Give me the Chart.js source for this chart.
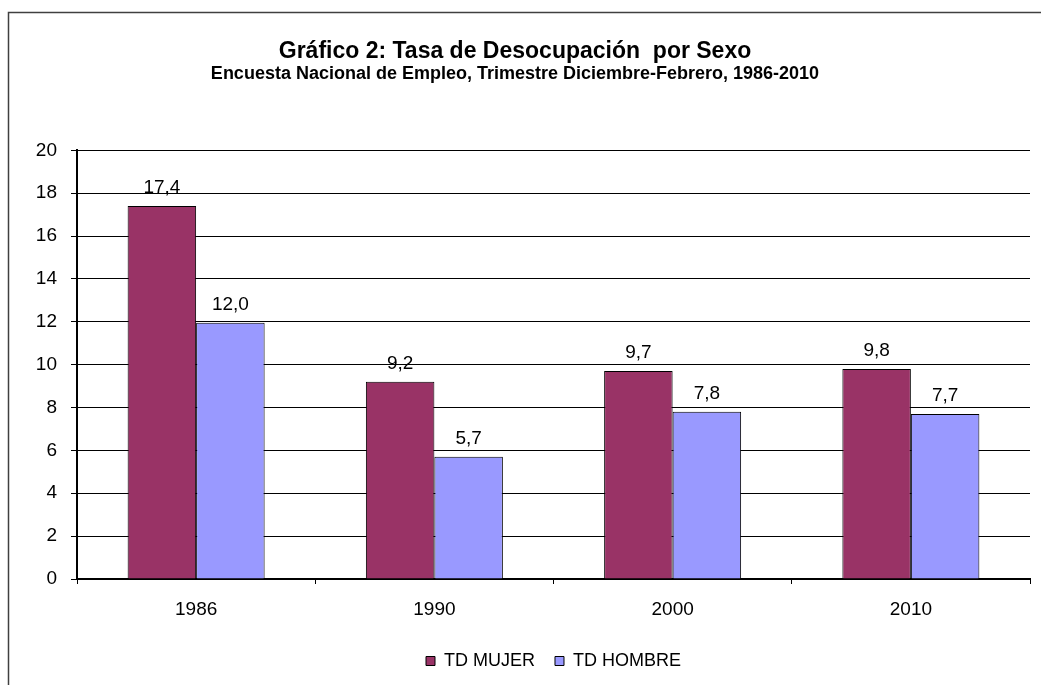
<!DOCTYPE html>
<html>
<head>
<meta charset="utf-8">
<script src="https://cdn.jsdelivr.net/npm/chart.js@4/dist/chart.umd.min.js"></script>
<style>
  html, body { margin: 0; padding: 0; background: #fff; }
  #wrap { width: 1041px; height: 685px; }
</style>
</head>
<body>
<div id="wrap"><canvas id="c" width="1041" height="685"></canvas></div>
<script>
const categories = ['1986', '1990', '2000', '2010'];
const tdMujer = [17.4, 9.2, 9.7, 9.8];
const tdHombre = [11.95, 5.7, 7.8, 7.7];
const seriesNames = ['TD MUJER', 'TD HOMBRE'];
const titleText = 'Gráfico 2: Tasa de Desocupación  por Sexo';
const subtitleText = 'Encuesta Nacional de Empleo, Trimestre Diciembre-Febrero, 1986-2010';
const yTicks = { min: 0, max: 20, step: 2 };

const FONT = "'Liberation Sans', Arial, sans-serif";

const fmt = new Intl.NumberFormat('es-ES', { minimumFractionDigits: 1, maximumFractionDigits: 1 });

const framePlugin = {
  id: 'frame',
  beforeDraw(chart) {
    const ctx = chart.ctx;
    ctx.save();
    ctx.fillStyle = '#fff';
    ctx.fillRect(0, 0, chart.width, chart.height);
    ctx.strokeStyle = '#404040';
    ctx.lineWidth = 1.5;
    ctx.beginPath();
    ctx.moveTo(8.5, chart.height + 2);
    ctx.lineTo(8.5, 12.5);
    ctx.lineTo(chart.width + 2, 12.5);
    ctx.stroke();
    ctx.restore();
  }
};

const labelPlugin = {
  id: 'valueLabels',
  afterDatasetsDraw(chart) {
    const ctx = chart.ctx;
    ctx.save();
    ctx.font = '19px ' + FONT;
    ctx.fillStyle = '#000';
    ctx.textAlign = 'center';
    ctx.textBaseline = 'alphabetic';
    chart.data.datasets.forEach((ds, di) => {
      const meta = chart.getDatasetMeta(di);
      meta.data.forEach((bar, i) => {
        ctx.fillText(fmt.format(ds.data[i]), bar.x, bar.y - 13);
      });
    });
    ctx.restore();
  }
};

new Chart(document.getElementById('c'), {
  type: 'bar',
  data: {
    labels: categories,
    datasets: [
      { label: seriesNames[0], data: tdMujer, backgroundColor: '#993366', borderColor: '#000', borderWidth: 1 },
      { label: seriesNames[1], data: tdHombre, backgroundColor: '#9999FF', borderColor: '#000', borderWidth: 1 }
    ]
  },
  options: {
    responsive: false,
    animation: false,
    devicePixelRatio: 1,
    layout: { padding: { top: 0, left: 0, right: 11, bottom: 5 } },
    datasets: { bar: { categoryPercentage: 0.575, barPercentage: 1.0 } },
    plugins: {
      title: {
        display: true, text: titleText, color: '#000',
        font: { family: FONT, size: 23, weight: 'bold', lineHeight: 1.1 },
        padding: { top: 39, bottom: 0 }
      },
      subtitle: {
        display: true, text: subtitleText, color: '#000',
        font: { family: FONT, size: 18, weight: 'bold', lineHeight: 1.0 },
        padding: { top: 1, bottom: 67 }
      },
      legend: {
        display: true, position: 'bottom', fullSize: false,
        labels: {
          boxWidth: 9, boxHeight: 9, padding: 20, color: '#000',
          font: { family: FONT, size: 18 }
        }
      },
      tooltip: { enabled: false }
    },
    scales: {
      x: {
        grid: { offset: true, drawOnChartArea: false, drawTicks: true, tickLength: 5, color: '#000', lineWidth: 1 },
        border: { display: true, color: '#000', width: 2 },
        ticks: { color: '#000', font: { family: FONT, size: 19 }, padding: 14 },
        afterFit(scale) { scale.height = 53; }
      },
      y: {
        min: yTicks.min, max: yTicks.max,
        ticks: { stepSize: yTicks.step, color: '#000', font: { family: FONT, size: 19 }, padding: 14 },
        grid: { color: '#000', lineWidth: 1, tickLength: 6, drawTicks: true },
        border: { display: true, color: '#000', width: 2 },
        afterFit(scale) { scale.width = 77; }
      }
    }
  },
  plugins: [framePlugin, labelPlugin]
});
</script>
</body>
</html>
